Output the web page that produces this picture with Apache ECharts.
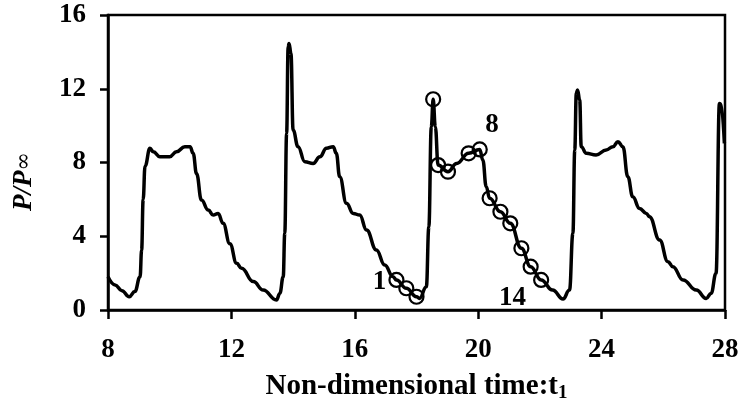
<!DOCTYPE html>
<html>
<head>
<meta charset="utf-8">
<script src="https://cdn.jsdelivr.net/npm/echarts@6/dist/echarts.min.js"></script>
<style>html,body{margin:0;padding:0;background:#fff;}#c{width:741px;height:408px;}</style>
</head>
<body>
<div id="c"></div>
<script>
var times = [8.0,8.23,8.45,8.69,8.87,9.04,9.09,9.14,9.2,9.36,9.47,9.68,10.0,10.22,10.49,10.66,10.76,10.87,11.03,11.25,11.41,11.57,11.73,11.95,12.17,12.33,12.71,13.03,13.46,13.57,13.68,13.73,13.79,13.84,13.87,13.93,14.0,14.16,14.38,14.65,14.87,15.08,15.3,15.4,15.51,15.73,15.95,16.16,16.38,16.7,16.97,17.24,17.35,17.67,18.0,18.1,18.32,18.4,18.48,18.54,18.61,18.7,19.02,19.3,19.69,20.05,20.15,20.26,20.37,20.72,21.04,21.4,21.7,22.04,22.41,22.75,22.96,23.07,23.13,23.18,23.22,23.29,23.34,23.5,23.82,24.15,24.37,24.53,24.69,24.85,25.01,25.23,25.45,25.55,25.88,26.15,26.31,26.64,27.07,27.39,27.55,27.71,27.82,27.87,27.98];
var pressure = [1.8,1.36,1.05,0.72,1.0,1.8,3.25,6.0,7.8,8.77,8.58,8.31,8.31,8.58,8.86,8.86,8.5,7.4,5.96,5.42,5.15,5.24,4.7,3.6,2.53,2.26,1.54,1.08,0.54,0.9,1.8,4.16,9.58,14.28,14.46,13.92,9.76,8.86,8.04,7.95,8.31,8.77,8.86,8.5,7.23,5.79,5.24,5.15,4.34,3.25,2.44,1.81,1.63,1.18,0.72,0.63,1.26,4.5,9.94,11.43,9.94,7.86,7.5,7.95,8.5,8.71,8.13,6.69,6.06,5.33,4.7,3.35,2.35,1.63,1.08,0.6,1.08,4.16,8.68,11.75,11.93,11.39,8.86,8.5,8.41,8.68,8.86,9.13,8.86,7.23,6.14,5.51,5.24,5.06,3.8,2.62,2.35,1.63,1.08,0.63,0.9,1.99,11.2,11.17,9.04];
var markerT = [17.35,17.67,18.0,18.54,18.7,19.02,19.69,20.05,20.37,20.72,21.04,21.4,21.7,22.04];
var markerP = [1.63,1.18,0.72,11.43,7.86,7.5,8.5,8.71,6.06,5.33,4.7,3.35,2.35,1.63];
var markerLabels = ['1','','','','','','','8','','','','','','14'];
var xTicks = [8,12,16,20,24,28];
var yTicks = [0,4,8,12,16];

var font = 'Liberation Serif';
var curve = times.map(function(t,i){return [t,pressure[i]];});
var marks = markerT.map(function(t,i){return {value:[t,markerP[i]], name: markerLabels[i]};});

var chart = echarts.init(document.getElementById('c'), null, {renderer:'canvas'});
chart.setOption({
  animation:false,
  backgroundColor:'#fff',
  grid:{left:108,right:16,top:15,bottom:98,outerBoundsMode:'none',containLabel:false,show:true,borderColor:'#000',borderWidth:2.5,backgroundColor:'transparent'},
  xAxis:{type:'value',min:xTicks[0],max:xTicks[xTicks.length-1],interval:4,
    axisLine:{lineStyle:{color:'#000',width:2.5}},
    axisTick:{show:true,inside:false,length:9,lineStyle:{color:'#000',width:2.5}},
    splitLine:{show:false},
    axisLabel:{margin:27,color:'#000',fontFamily:font,fontWeight:'bold',fontSize:27},
    name:'{b|Non-dimensional time:t}{s|1}',nameLocation:'middle',nameGap:60,
    nameTextStyle:{color:'#000',rich:{
      b:{fontFamily:font,fontWeight:'bold',fontSize:29,color:'#000'},
      s:{fontFamily:font,fontWeight:'bold',fontSize:19,color:'#000',padding:[14,0,0,0]}}}
  },
  yAxis:{type:'value',min:yTicks[0],max:yTicks[yTicks.length-1],interval:4,
    axisLine:{show:true,lineStyle:{color:'#000',width:2.5}},
    axisTick:{show:true,inside:false,length:8,lineStyle:{color:'#000',width:2.5}},
    splitLine:{show:false},
    axisLabel:{margin:22,color:'#000',fontFamily:font,fontWeight:'bold',fontSize:27},
    name:'{i|P/P}{n|∞}',nameLocation:'middle',nameGap:70,
    nameTextStyle:{color:'#000',padding:[0,0,0,-38],rich:{
      i:{fontFamily:font,fontWeight:'bold',fontStyle:'italic',fontSize:27,color:'#000'},
      n:{fontFamily:'DejaVu Serif',fontSize:22,color:'#000'}}}
  },
  series:[
    {type:'line',data:curve,smooth:0.45,smoothMonotone:'x',showSymbol:false,symbol:'none',
     lineStyle:{color:'#000',width:3.5},z:2,clip:true},
    {type:'scatter',data:marks,symbol:'circle',symbolSize:14,
     itemStyle:{color:'rgba(255,255,255,0)',borderColor:'#000',borderWidth:2.2,opacity:1},z:3,
     label:{show:true,formatter:function(p){return p.name;},fontFamily:font,fontWeight:'bold',fontSize:27,color:'#000',opacity:1,
       textBorderWidth:0,textBorderColor:'transparent',position:'left',distance:0},
     labelLayout:function(p){
       var n = markerLabels[p.dataIndex];
       if(n==='1') return {dx:-2,dy:2};
       if(n==='8') return {dx:27,dy:-24};
       if(n==='14') return {dx:-7,dy:18};
       return {};
     }}
  ]
});
</script>
</body>
</html>
